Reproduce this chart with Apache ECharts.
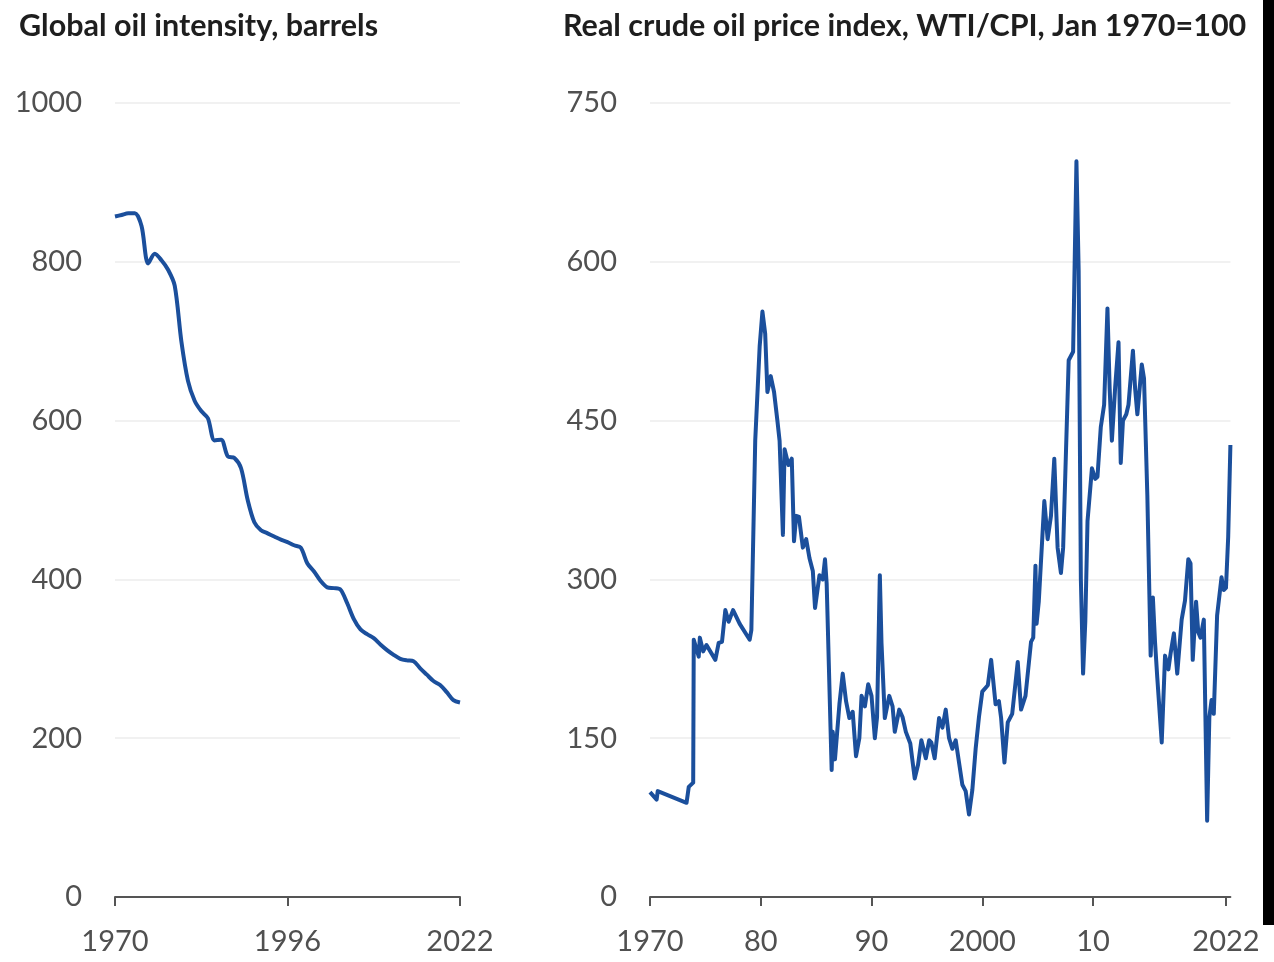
<!DOCTYPE html>
<html>
<head>
<meta charset="utf-8">
<script src="https://cdn.jsdelivr.net/npm/echarts@6/dist/echarts.min.js"></script>
<style>
  html, body { margin: 0; padding: 0; background: #fff; }
  #chart { width: 1274px; height: 962px; }
</style>
</head>
<body>
<div id="chart"></div>
<script>
// ---- Data ----
const leftTitle = "Global oil intensity, barrels";
const rightTitle = "Real crude oil price index, WTI/CPI, Jan 1970=100";

const intensityYears = [1970,1971,1972,1973,1974,1975,1976,1977,1978,1979,1980,1981,1982,1983,1984,1985,1986,1987,1988,1989,1990,1991,1992,1993,1994,1995,1996,1997,1998,1999,2000,2001,2002,2003,2004,2005,2006,2007,2008,2009,2010,2011,2012,2013,2014,2015,2016,2017,2018,2019,2020,2021,2022];
const intensityValues = [857,859,861,861,845,798,810,802,790,770,700,650,625,612,603,575,576,555,553,540,500,472,462,458,454,450,447,443,440,420,410,398,390,389,387,370,350,337,331,326,318,311,305,300,298,297,288,280,272,267,258,248,245];

const priceDates = [1970.0,1970.6,1970.7,1973.3,1973.5,1973.9,1973.95,1974.4,1974.5,1974.8,1975.1,1975.9,1976.2,1976.5,1976.8,1977.1,1977.5,1978.1,1979.0,1979.15,
  1979.5,1979.9,1980.15,1980.4,1980.6,1980.9,1981.2,1981.5,1981.7,1982.0,1982.15,1982.5,1982.8,1983.0,1983.2,1983.45,1983.8,1984.1,1984.4,1984.7,1984.9,1985.3,1985.6,1985.8,1985.95,
  1986.4,1986.5,1986.7,1987.1,1987.4,1987.7,1988.0,1988.3,1988.6,1988.9,1989.1,1989.4,1989.7,1990.0,1990.3,1990.5,1990.75,1990.9,1991.2,1991.6,1991.9,1992.1,1992.5,1992.8,1993.1,1993.5,1993.9,1994.2,1994.5,1994.9,1995.2,1995.4,1995.7,
  1996.1,1996.4,1996.7,1997.0,1997.3,1997.6,1998.2,1998.5,1998.8,1999.1,1999.4,1999.7,2000.0,2000.5,2000.8,2001.2,2001.5,2001.7,2002.0,2002.3,2002.7,2003.2,2003.5,2003.9,2004.4,2004.6,2004.8,2004.9,2005.1,2005.6,2005.9,2006.2,2006.5,2006.8,2007.1,2007.3,2007.5,2007.8,
  2008.2,2008.5,2008.7,2008.9,2009.1,2009.3,2009.5,2009.9,2010.2,2010.4,2010.7,2011.0,2011.3,2011.5,2011.7,2012.0,2012.3,2012.5,2012.7,2013.0,2013.2,2013.6,2013.8,2014.0,2014.4,2014.6,2014.9,
  2015.2,2015.4,2015.6,2015.8,2016.2,2016.5,2016.8,2017.0,2017.3,2017.6,2018.0,2018.3,2018.6,2018.8,2019.0,2019.3,2019.5,2019.7,2020.0,2020.3,2020.5,2020.7,2020.9,2021.2,2021.6,2021.8,2022.0,2022.2,2022.4];
const priceValues = [99,92,100,89,104,108,243,227,245,232,238,224,240,241,271,260,271,258,243,252,
  431,520,553,532,477,492,477,450,431,342,423,408,414,336,360,359,330,338,320,308,273,304,300,319,296,
  120,156,130,182,211,185,169,175,133,150,190,180,201,190,150,170,304,240,169,190,180,156,177,170,156,145,112,125,148,131,148,146,131,
  169,160,177,150,140,148,106,100,78,101,140,170,194,200,224,182,185,169,127,165,173,222,177,190,241,245,313,258,279,374,338,360,414,330,306,330,401,507,
  515,695,592,300,211,260,355,405,395,397,444,465,556,480,431,482,524,410,450,456,465,516,480,456,503,490,380,
  228,283,240,207,146,228,215,230,249,211,262,280,319,315,224,279,250,245,262,72,170,186,173,266,302,290,292,340,427];

const leftXTicks = [1970, 1996, 2022];
const rightXTicks = [1970, 1980, 1990, 2000, 2010, 2022];
const rightXLabels = ["1970", "80", "90", "2000", "10", "2022"];

// ---- Build ----
const lineColor = "#1b4f9c";
const fontFamily = "Lato, 'Open Sans', sans-serif";
const labelColor = "#505050";

const leftData = intensityYears.map((y, i) => [y, intensityValues[i]]);
const rightData = priceDates.map((d, i) => [d, priceValues[i]]);

function xAxisFor(gridIndex, ticks, labels, max) {
  return {
    type: 'value', gridIndex: gridIndex, min: 1970, max: max,
    axisLine: { show: true, lineStyle: { color: '#555', width: 2 } },
    axisTick: { show: true, length: 9, customValues: ticks, lineStyle: { color: '#555', width: 2 } },
    splitLine: { show: false },
    axisLabel: {
      customValues: ticks, margin: 30, color: labelColor, fontSize: 29, fontFamily: fontFamily,
      formatter: function (v) {
        const idx = ticks.indexOf(Math.round(v));
        return labels ? labels[idx] : String(Math.round(v));
      }
    }
  };
}
function yAxisFor(gridIndex, max, interval) {
  return {
    type: 'value', gridIndex: gridIndex, min: 0, max: max, interval: interval,
    axisLine: { show: false }, axisTick: { show: false },
    splitLine: { show: true, lineStyle: { color: '#f1f1f1', width: 2 } },
    axisLabel: { margin: 33, color: labelColor, fontSize: 29, fontFamily: fontFamily,
      formatter: function (v) { return String(v); } }
  };
}

const chart = echarts.init(document.getElementById('chart'), null, { renderer: 'canvas' });
chart.setOption({
  backgroundColor: '#ffffff',
  animation: false,
  title: [
    { text: leftTitle, left: 14, top: 6, textStyle: { fontFamily: fontFamily, fontWeight: 'bold', fontSize: 30.5, color: '#1e1e1e' } },
    { text: rightTitle, left: 558, top: 6, textStyle: { fontFamily: fontFamily, fontWeight: 'bold', fontSize: 30.5, color: '#1e1e1e' } }
  ],
  grid: [
    { left: 115, top: 103, width: 345, height: 794 },
    { left: 650, top: 103, width: 580.4, height: 794 }
  ],
  xAxis: [ xAxisFor(0, leftXTicks, null, 2022), xAxisFor(1, rightXTicks, rightXLabels, 2022.4) ],
  yAxis: [ yAxisFor(0, 1000, 200), yAxisFor(1, 750, 150) ],
  series: [
    { type: 'line', xAxisIndex: 0, yAxisIndex: 0, data: leftData, showSymbol: false, smooth: 0.3,
      lineStyle: { color: lineColor, width: 4 } },
    { type: 'line', xAxisIndex: 1, yAxisIndex: 1, data: rightData, showSymbol: false, clip: false,
      lineStyle: { color: lineColor, width: 4, join: 'round' } }
  ],
  graphic: [
    { type: 'rect', shape: { x: 1263, y: 0, width: 11, height: 925 }, style: { fill: '#000' } }
  ]
});
</script>
</body>
</html>
